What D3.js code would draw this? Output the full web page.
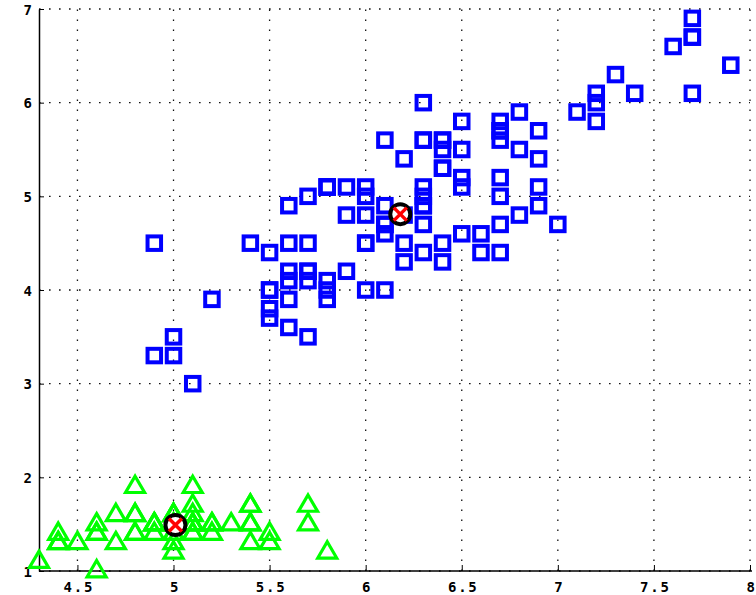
<!DOCTYPE html>
<html>
<head>
<meta charset="utf-8">
<script src="https://cdn.jsdelivr.net/npm/d3@7"></script>
<style>
  html, body { margin: 0; padding: 0; background: #fff; }
  svg { display: block; }
  .tick-label { font-family: "DejaVu Sans Mono", monospace; font-weight: bold; font-size: 14px; fill: #000; }
</style>
</head>
<body>
<svg id="chart" width="756" height="595"></svg>
<script>
// Iris measurements: sepal length (x) vs petal length (y)
// Cluster 1 (setosa)
const cluster1X = [5.1,4.9,4.7,4.6,5.0,5.4,4.6,5.0,4.4,4.9,5.4,4.8,4.8,4.3,5.8,5.7,5.4,5.1,5.7,5.1,
                   5.4,5.1,4.6,5.1,4.8,5.0,5.0,5.2,5.2,4.7,4.8,5.4,5.2,5.5,4.9,5.0,5.5,4.9,4.4,5.1,
                   5.0,4.5,4.4,5.0,5.1,4.8,5.1,4.6,5.3,5.0];
const cluster1Y = [1.4,1.4,1.3,1.5,1.4,1.7,1.4,1.5,1.4,1.5,1.5,1.6,1.4,1.1,1.2,1.5,1.3,1.4,1.7,1.5,
                   1.7,1.5,1.0,1.7,1.9,1.6,1.6,1.5,1.4,1.6,1.6,1.5,1.5,1.4,1.5,1.2,1.3,1.5,1.3,1.5,
                   1.3,1.3,1.3,1.6,1.9,1.4,1.6,1.4,1.5,1.4];
// Cluster 2 (versicolor + virginica)
const cluster2X = [7.0,6.4,6.9,5.5,6.5,5.7,6.3,4.9,6.6,5.2,5.0,5.9,6.0,6.1,5.6,6.7,5.6,5.8,6.2,5.6,
                   5.9,6.1,6.3,6.1,6.4,6.6,6.8,6.7,6.0,5.7,5.5,5.5,5.8,6.0,5.4,6.0,6.7,6.3,5.6,5.5,
                   5.5,6.1,5.8,5.0,5.6,5.7,5.7,6.2,5.1,5.7,
                   6.3,5.8,7.1,6.3,6.5,7.6,4.9,7.3,6.7,7.2,6.5,6.4,6.8,5.7,5.8,6.4,6.5,7.7,7.7,6.0,
                   6.9,5.6,7.7,6.3,6.7,7.2,6.2,6.1,6.4,7.2,7.4,7.9,6.4,6.3,6.1,7.7,6.3,6.4,6.0,6.9,
                   6.7,6.9,5.8,6.8,6.7,6.7,6.3,6.5,6.2,5.9];
const cluster2Y = [4.7,4.5,4.9,4.0,4.6,4.5,4.7,3.3,4.6,3.9,3.5,4.2,4.0,4.7,3.6,4.4,4.5,4.1,4.5,3.9,
                   4.8,4.0,4.9,4.7,4.3,4.4,4.8,5.0,4.5,3.5,3.8,3.7,3.9,5.1,4.5,4.5,4.7,4.4,4.1,4.0,
                   4.4,4.6,4.0,3.3,4.2,4.2,4.2,4.3,3.0,4.1,
                   6.0,5.1,5.9,5.6,5.8,6.6,4.5,6.3,5.8,6.1,5.1,5.3,5.5,5.0,5.1,5.3,5.5,6.7,6.9,5.0,
                   5.7,4.9,6.7,4.9,5.7,6.0,4.8,4.9,5.6,5.8,6.1,6.4,5.6,5.1,5.6,6.1,5.6,5.5,4.8,5.4,
                   5.6,5.1,5.1,5.9,5.7,5.2,5.0,5.2,5.4,5.1];
// Cluster centres
const centroidX = [5.01, 6.18];
const centroidY = [1.49, 4.81];
// Axis ticks
const xTicks = [4.5, 5, 5.5, 6, 6.5, 7, 7.5, 8];
const xTickLabels = ["4.5", "5", "5.5", "6", "6.5", "7", "7.5", "8"];
const yTicks = [1, 2, 3, 4, 5, 6, 7];
const yTickLabels = ["1", "2", "3", "4", "5", "6", "7"];

const svg = d3.select("#chart");
const x = d3.scaleLinear().domain([4.3, 8]).range([39, 750]);
const y = d3.scaleLinear().domain([1, 7]).range([571, 9]);

// dotted grid
const grid = svg.append("g").attr("stroke", "#111").attr("stroke-width", 1.3)
  .attr("stroke-dasharray", "1.6,8.4");
grid.selectAll("line.gx").data(xTicks).join("line").attr("class", "gx")
  .attr("x1", d => x(d)).attr("x2", d => x(d))
  .attr("y1", y(1)).attr("y2", y(7));
grid.selectAll("line.gy").data(yTicks).join("line").attr("class", "gy")
  .attr("y1", d => y(d)).attr("y2", d => y(d))
  .attr("x1", x(4.3)).attr("x2", x(8));

// axes
const xAxis = d3.axisBottom(x).tickValues(xTicks).tickSizeInner(-6).tickSizeOuter(0)
  .tickFormat((d, i) => xTickLabels[i]);
const gx = svg.append("g").attr("transform", `translate(0,${y(1)})`).call(xAxis);
gx.select(".domain").attr("stroke", "#000").attr("stroke-width", 1.5).attr("d", `M${x(4.3)},0H${x(8) + 2}`);
gx.selectAll(".tick line").attr("stroke", "#000");
gx.selectAll(".tick text").attr("class", "tick-label").attr("y", 21).attr("dy", null)
  .attr("letter-spacing", "1.8px").attr("dx", "1px");

const yAxis = d3.axisLeft(y).tickValues(yTicks).tickSizeInner(-5).tickSizeOuter(0)
  .tickFormat((d, i) => yTickLabels[i]);
const gy = svg.append("g").attr("transform", `translate(${x(4.3)},0)`).call(yAxis);
gy.select(".domain").attr("stroke", "#000").attr("stroke-width", 1.5);
gy.selectAll(".tick line").attr("stroke", "#000");
gy.selectAll(".tick text").attr("class", "tick-label").attr("x", -7).attr("dy", "0.38em");

// cluster 1: green triangles
const c1 = cluster1X.map((v, i) => [v, cluster1Y[i]]);
svg.append("g").selectAll("path").data(c1).join("path")
  .attr("transform", d => `translate(${x(d[0])},${y(d[1])})`)
  .attr("d", "M0,-10.5L9.5,5.8L-9.5,5.8Z")
  .attr("fill", "none").attr("stroke", "#00ff00").attr("stroke-width", 3.2)
  .attr("stroke-linejoin", "miter");

// cluster 2: blue squares
const c2 = cluster2X.map((v, i) => [v, cluster2Y[i]]);
const s = 13.5;
svg.append("g").selectAll("rect").data(c2).join("rect")
  .attr("x", d => x(d[0]) - s / 2).attr("y", d => y(d[1]) - s / 2)
  .attr("width", s).attr("height", s)
  .attr("fill", "none").attr("stroke", "#0000ff").attr("stroke-width", 4);

// centres
const cents = centroidX.map((v, i) => [v, centroidY[i]]);
const cg = svg.append("g").selectAll("g").data(cents).join("g")
  .attr("transform", d => `translate(${x(d[0])},${y(d[1])})`);
cg.append("circle").attr("r", 10).attr("fill", "#fff").attr("stroke", "#000").attr("stroke-width", 4);
cg.append("path").attr("d", "M-6.5,-6.5L6.5,6.5M-6.5,6.5L6.5,-6.5")
  .attr("stroke", "#ff0000").attr("stroke-width", 3.5).attr("fill", "none");
</script>
</body>
</html>
